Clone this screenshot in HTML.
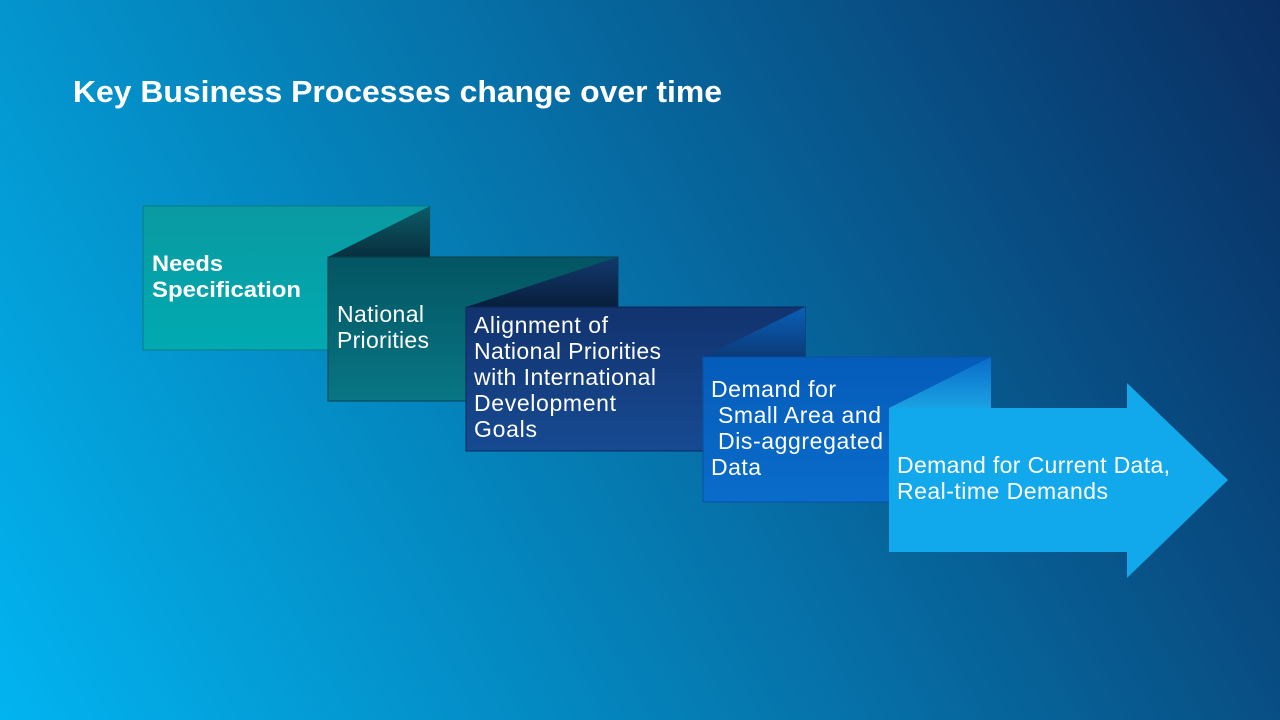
<!DOCTYPE html>
<html><head><style>
html,body{margin:0;padding:0;width:1280px;height:720px;overflow:hidden}
svg{display:block}
text{font-family:"Liberation Sans",Arial,sans-serif;fill:#fff}
</style></head><body>
<svg width="1280" height="720" viewBox="0 0 1280 720">
<defs>
<linearGradient id="bg" x1="0" y1="720" x2="1280" y2="0" gradientUnits="userSpaceOnUse">
<stop offset="0" stop-color="#02b4f0"/><stop offset="0.45" stop-color="#0579b0"/><stop offset="1" stop-color="#0a2e62"/>
</linearGradient>
<linearGradient id="b1" x1="0" y1="0" x2="0" y2="1"><stop offset="0" stop-color="#0a9aa2"/><stop offset="1" stop-color="#00aab0"/></linearGradient>
<linearGradient id="f1" x1="0" y1="0" x2="0" y2="1"><stop offset="0" stop-color="#0d5c68"/><stop offset="1" stop-color="#082f3e"/></linearGradient>
<linearGradient id="b2" x1="0" y1="0" x2="0" y2="1"><stop offset="0" stop-color="#035562"/><stop offset="1" stop-color="#087684"/></linearGradient>
<linearGradient id="f2" x1="0" y1="0" x2="0" y2="1"><stop offset="0" stop-color="#123a6e"/><stop offset="1" stop-color="#081e3c"/></linearGradient>
<linearGradient id="b3" x1="0" y1="0" x2="0" y2="1"><stop offset="0" stop-color="#12336e"/><stop offset="1" stop-color="#174a92"/></linearGradient>
<linearGradient id="f3" x1="0" y1="0" x2="0" y2="1"><stop offset="0" stop-color="#0a60b8"/><stop offset="1" stop-color="#0b3a78"/></linearGradient>
<linearGradient id="b4" x1="0" y1="0" x2="0" y2="1"><stop offset="0" stop-color="#055cba"/><stop offset="1" stop-color="#0a6cca"/></linearGradient>
<linearGradient id="f4" x1="0" y1="0" x2="0" y2="1"><stop offset="0" stop-color="#0a6cc8"/><stop offset="1" stop-color="#1aa2e2"/></linearGradient>
</defs>
<rect width="1280" height="720" fill="url(#bg)"/>
<text x="73" y="102" font-size="31" font-weight="bold" textLength="649" lengthAdjust="spacingAndGlyphs">Key Business Processes change over time</text>

<rect x="143" y="206" width="287" height="144" fill="url(#b1)" stroke="#0a7a85" stroke-width="1"/>
<polygon points="328,257 430,206 430,257" fill="url(#f1)"/>
<text x="152" y="271" font-size="22" font-weight="bold" textLength="71" lengthAdjust="spacingAndGlyphs">Needs</text>
<text x="152" y="297" font-size="22" font-weight="bold" textLength="149" lengthAdjust="spacingAndGlyphs">Specification</text>

<rect x="328" y="257" width="290" height="144" fill="url(#b2)" stroke="#063e4a" stroke-width="1"/>
<polygon points="466,307 618,257 618,307" fill="url(#f2)"/>
<text font-size="23" lengthAdjust="spacingAndGlyphs"><tspan x="337" y="322" textLength="87">National</tspan><tspan x="337" y="348" textLength="92">Priorities</tspan></text>

<rect x="466" y="307" width="339" height="144" fill="url(#b3)" stroke="#0a2a58" stroke-width="1"/>
<polygon points="703,357 805,307 805,357" fill="url(#f3)"/>
<text font-size="23" lengthAdjust="spacingAndGlyphs"><tspan x="474" y="333" textLength="134">Alignment of</tspan><tspan x="474" y="359" textLength="187">National Priorities</tspan><tspan x="474" y="385" textLength="182">with International</tspan><tspan x="474" y="411" textLength="142">Development</tspan><tspan x="474" y="437" textLength="63">Goals</tspan></text>

<rect x="703" y="357" width="288" height="145" fill="url(#b4)" stroke="#0a50a0" stroke-width="1"/>
<polygon points="889,408 991,357 991,408" fill="url(#f4)"/>
<text font-size="23" lengthAdjust="spacingAndGlyphs"><tspan x="711" y="397" textLength="125">Demand for</tspan><tspan x="718" y="423" textLength="163">Small Area and</tspan><tspan x="718" y="449" textLength="165">Dis-aggregated</tspan><tspan x="711" y="475" textLength="50">Data</tspan></text>

<polygon points="889,408 1127,408 1127,383 1228,480 1127,578 1127,552 889,552" fill="#12a9ec"/>
<text font-size="23" lengthAdjust="spacingAndGlyphs"><tspan x="897" y="473" textLength="273">Demand for Current Data,</tspan><tspan x="897" y="499" textLength="211">Real-time Demands</tspan></text>
</svg>
</body></html>
